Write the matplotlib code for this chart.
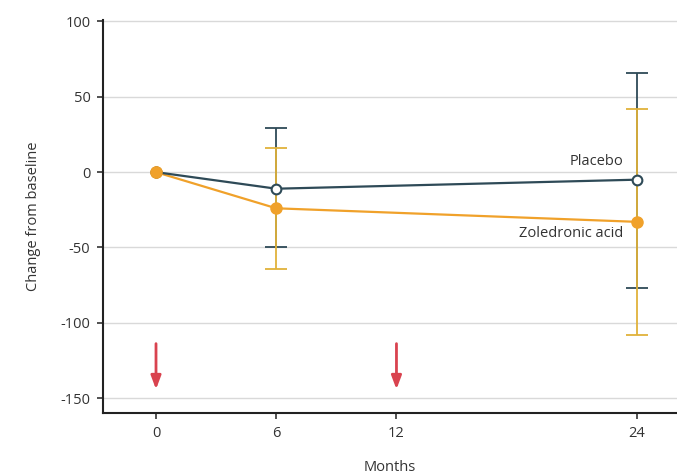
import matplotlib
matplotlib.use("Agg")
import matplotlib.pyplot as plt

months = [0, 6, 24]
placebo = [0, -11, -5]
placebo_lo = [0, -50, -77]
placebo_hi = [0, 29, 66]
zol = [0, -24, -33]
zol_lo = [0, -64, -108]
zol_hi = [0, 16, 42]
dose_months = [0, 12]
yticks = [100, 50, 0, -50, -100, -150]
ytick_labels = ['100', '50', '0', '-50', '-100', '-150']
xticks = [0, 6, 12, 24]

plt.rcParams['font.family'] = ['Open Sans', 'DejaVu Sans']
fig = plt.figure(figsize=(6.77, 4.76), dpi=100)
ax = fig.add_axes([0.152, 0.132, 0.848, 0.826])

c_pl = '#2e4a57'
c_zo = '#f0a12a'
c_err = '#e0b23a'

for y in yticks:
    ax.axhline(y, color='#d9d9d9', lw=1, zorder=0)

ax.errorbar(months[1:], placebo[1:],
            yerr=[[p - l for p, l in zip(placebo[1:], placebo_lo[1:])],
                  [h - p for p, h in zip(placebo[1:], placebo_hi[1:])]],
            fmt='none', ecolor=c_pl, elinewidth=1.3, capsize=8, capthick=1.3, zorder=2)
ax.errorbar(months[1:], zol[1:],
            yerr=[[p - l for p, l in zip(zol[1:], zol_lo[1:])],
                  [h - p for p, h in zip(zol[1:], zol_hi[1:])]],
            fmt='none', ecolor=c_err, elinewidth=1.3, capsize=8, capthick=1.3, zorder=3)

ax.plot(months, zol, color=c_zo, lw=1.6, marker='o', ms=8, mfc=c_zo, mec=c_zo, zorder=4)
ax.plot(months, placebo, color=c_pl, lw=1.6, marker='o', ms=7, mfc='white', mec=c_pl,
        mew=1.5, zorder=5)
ax.plot([months[0]], [zol[0]], 'o', color=c_zo, ms=8, zorder=6)

ax.text(23.3, 7, 'Placebo', ha='right', va='center', fontsize=10.5, color='#333333')
ax.text(23.3, -41, 'Zoledronic acid', ha='right', va='center', fontsize=10.5, color='#333333')

for m in dose_months:
    ax.annotate('', xy=(m, -146), xytext=(m, -112),
                arrowprops=dict(arrowstyle='-|>,head_width=0.3,head_length=0.8',
                                color='#d9434f', lw=2))

ax.set_xlim(-2.65, 26.0)
ax.set_ylim(-160, 101)
ax.set_xticks(xticks)
ax.set_yticks(yticks)
ax.set_yticklabels(ytick_labels)
ax.tick_params(labelsize=10.5, colors='#333333', length=4, width=1.2, pad=5)
for s in ['top', 'right']:
    ax.spines[s].set_visible(False)
for s in ['left', 'bottom']:
    ax.spines[s].set_linewidth(1.5)
    ax.spines[s].set_color('#222222')
ax.set_xlabel('Months', fontsize=10.5, color='#333333', labelpad=14)
ax.set_ylabel('Change from baseline', fontsize=10.5, color='#333333', labelpad=14)

fig.savefig('out.png', dpi=100)
